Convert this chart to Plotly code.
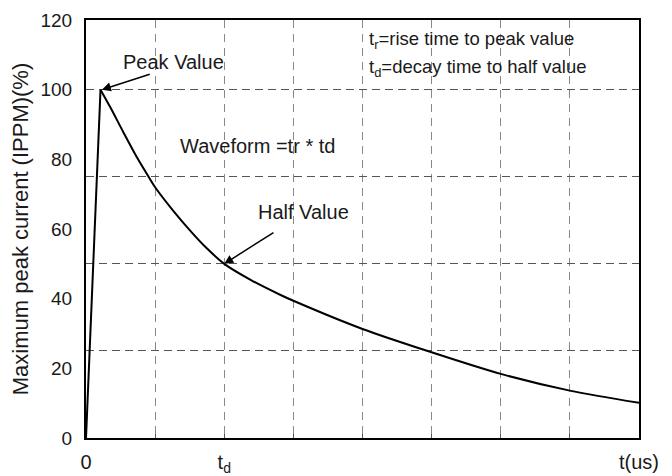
import plotly.graph_objects as go

# Data
rise_x = [0.0, 0.21]
rise_y = [0.0, 100.0]
decay_x = [0.21, 0.35, 0.54, 0.73, 0.89, 1.0, 1.26, 1.5, 1.74, 2.0, 2.4, 2.8, 3.0, 4.0, 5.0, 6.0, 7.0, 8.0]
decay_y = [100.0, 95.0, 87.8, 80.8, 75.5, 72.0, 65.3, 59.7, 54.6, 50.0, 45.2, 41.2, 39.4, 31.3, 24.6, 18.4, 13.6, 10.1]

x_tickvals = [0, 1, 2, 3, 4, 5, 6, 7, 8]
x_ticktext = ["0", "", "t<sub>d</sub>", "", "", "", "", "", "t(us)"]
y_tickvals = [0, 20, 40, 60, 80, 100, 120]
y_gridvals = [25, 50, 75, 100]

FONT = "Liberation Sans, Arial, sans-serif"
TXT = "#1a1a1a"

fig = go.Figure()
fig.add_trace(go.Scatter(x=rise_x, y=rise_y, mode="lines",
                         line=dict(color="black", width=2), showlegend=False))
fig.add_trace(go.Scatter(x=decay_x, y=decay_y, mode="lines",
                         line=dict(color="black", width=2, shape="spline", smoothing=0.8),
                         showlegend=False))

fig.update_layout(
    width=672, height=476, autosize=False,
    margin=dict(l=86, r=33, t=20, b=38, autoexpand=False),
    paper_bgcolor="white", plot_bgcolor="white",
    font=dict(family=FONT, color=TXT, size=19),
    xaxis=dict(range=[0, 8], tickvals=x_tickvals, ticktext=x_ticktext,
               showgrid=True, gridcolor="#888888", gridwidth=1, griddash="8px,6px",
               zeroline=False, showline=True, linecolor="black", linewidth=2, mirror=True,
               ticks="inside", ticklen=4, tickcolor="#555555",
               ticklabelstandoff=5, tickfont=dict(size=20)),
    yaxis=dict(range=[0, 120], tickvals=y_tickvals, showgrid=False, zeroline=False,
               showline=True, linecolor="black", linewidth=2, mirror=True,
               ticks="", ticklabelstandoff=8, tickfont=dict(size=19),
               title=dict(text="Maximum peak current (IPPM)(%)", font=dict(size=22), standoff=6)),
    yaxis2=dict(range=[0, 120], overlaying="y", side="left", tickvals=y_gridvals,
                showticklabels=False, showgrid=True, gridcolor="#555555", gridwidth=1,
                griddash="8px,5px", zeroline=False, showline=False, ticks=""),
)
# invisible trace to anchor y2
fig.add_trace(go.Scatter(x=[0], y=[0], yaxis="y2", mode="markers",
                         marker=dict(opacity=0), showlegend=False, hoverinfo="skip"))

ann = []
ann.append(dict(x=1.27, y=108, text="Peak Value", showarrow=False, font=dict(size=20)))
ann.append(dict(x=0.23, y=100, ax=0.98, ay=104.8, axref="x", ayref="y", text=" ",
                showarrow=True, arrowhead=2, arrowsize=1.2, arrowwidth=1.5, arrowcolor="black"))
ann.append(dict(x=3.15, y=64.9, text="Half Value", showarrow=False, font=dict(size=20)))
ann.append(dict(x=2.0, y=50, ax=2.77, ay=59.7, axref="x", ayref="y", text=" ",
                showarrow=True, arrowhead=2, arrowsize=1.2, arrowwidth=1.5, arrowcolor="black"))
ann.append(dict(x=1.33, y=83.8, xanchor="left", text="Waveform =tr * td",
                showarrow=False, font=dict(size=20)))
ann.append(dict(x=4.06, y=114.3, xanchor="left", text="t<sub>r</sub>=rise time to peak value",
                showarrow=False, font=dict(size=18.5)))
ann.append(dict(x=4.06, y=106.2, xanchor="left", text="t<sub>d</sub>=decay time to half value",
                showarrow=False, font=dict(size=18.5)))
fig.update_layout(annotations=ann)

fig.write_html(
    "out.html",
    config={"displayModeBar": False, "responsive": False},
    post_script=("var s='margin:0;padding:0;overflow:hidden;';"
                 "document.documentElement.style.cssText=s;"
                 "document.body.style.cssText=s;"),
)
